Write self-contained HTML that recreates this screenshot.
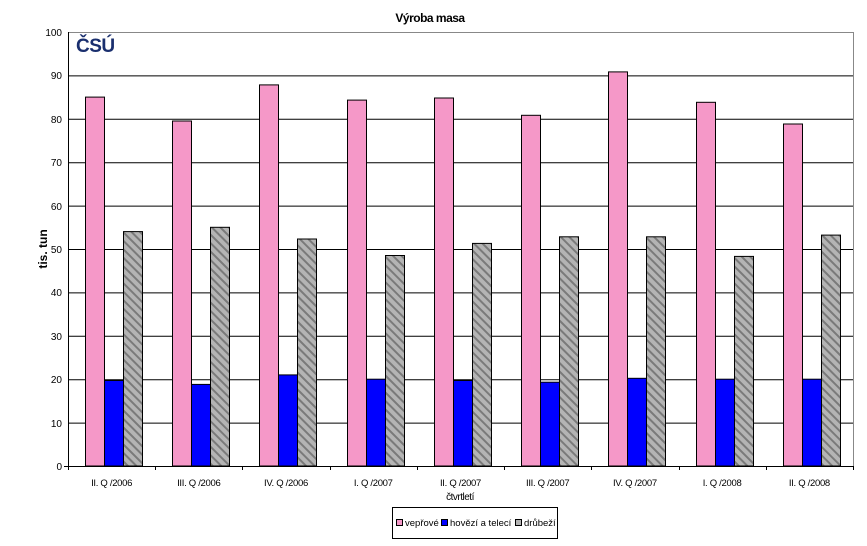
<!DOCTYPE html>
<html><head><meta charset="utf-8"><style>
html,body{margin:0;padding:0;background:#fff;}
svg{display:block;font-family:"Liberation Sans",Arial,sans-serif;}
</style></head><body>
<svg width="867" height="546" viewBox="0 0 867 546" xmlns="http://www.w3.org/2000/svg">
<defs>
<pattern id="h" width="6" height="6" patternUnits="userSpaceOnUse" patternTransform="rotate(-45)">
<rect width="6" height="6" fill="#b4b4b4"/><rect width="2" height="6" fill="#7a7a7a"/>
</pattern>
</defs>
<text x="430" y="22" font-size="12" text-anchor="middle" font-weight="bold" letter-spacing="-0.5">Výroba masa</text>
<g stroke="#000" stroke-width="1">
<line x1="68" y1="32.5" x2="853" y2="32.5" stroke="#888"/>
<line x1="68" y1="75.9" x2="853" y2="75.9"/>
<line x1="68" y1="119.3" x2="853" y2="119.3"/>
<line x1="68" y1="162.7" x2="853" y2="162.7"/>
<line x1="68" y1="206.1" x2="853" y2="206.1"/>
<line x1="68" y1="249.5" x2="853" y2="249.5"/>
<line x1="68" y1="292.9" x2="853" y2="292.9"/>
<line x1="68" y1="336.3" x2="853" y2="336.3"/>
<line x1="68" y1="379.7" x2="853" y2="379.7"/>
<line x1="68" y1="423.1" x2="853" y2="423.1"/>
<line x1="853.5" y1="32" x2="853.5" y2="466" stroke="#888"/>
</g>
<g font-size="10" text-anchor="end">
<text x="62" y="470">0</text><text x="62" y="427">10</text><text x="62" y="383">20</text><text x="62" y="340">30</text><text x="62" y="296">40</text><text x="62" y="253">50</text><text x="62" y="210">60</text><text x="62" y="166">70</text><text x="62" y="123">80</text><text x="62" y="79">90</text><text x="62" y="36">100</text>
</g>
<text x="0" y="0" font-size="12" font-weight="bold" transform="translate(47,249) rotate(-90)" text-anchor="middle">tis. tun</text>
<text x="76" y="52" font-size="19" font-weight="bold" fill="#1a2f6e" letter-spacing="-0.5">ČSÚ</text>
<g stroke="#000" stroke-width="1">
<rect x="85.5" y="97.1" width="19" height="368.9" fill="#f598c8"/>
<rect x="104.5" y="380.5" width="19" height="85.5" fill="#0000ff"/>
<rect x="123.5" y="231.6" width="19" height="234.4" fill="url(#h)"/>
<rect x="172.5" y="121.0" width="19" height="345.0" fill="#f598c8"/>
<rect x="191.5" y="384.4" width="19" height="81.6" fill="#0000ff"/>
<rect x="210.5" y="227.3" width="19" height="238.7" fill="url(#h)"/>
<rect x="259.5" y="84.9" width="19" height="381.1" fill="#f598c8"/>
<rect x="278.5" y="374.9" width="19" height="91.1" fill="#0000ff"/>
<rect x="297.5" y="239.0" width="19" height="227.0" fill="url(#h)"/>
<rect x="347.5" y="100.1" width="19" height="365.9" fill="#f598c8"/>
<rect x="366.5" y="379.2" width="19" height="86.8" fill="#0000ff"/>
<rect x="385.5" y="255.5" width="19" height="210.5" fill="url(#h)"/>
<rect x="434.5" y="98.0" width="19" height="368.0" fill="#f598c8"/>
<rect x="453.5" y="380.5" width="19" height="85.5" fill="#0000ff"/>
<rect x="472.5" y="243.4" width="19" height="222.6" fill="url(#h)"/>
<rect x="521.5" y="115.3" width="19" height="350.7" fill="#f598c8"/>
<rect x="540.5" y="382.2" width="19" height="83.8" fill="#0000ff"/>
<rect x="559.5" y="236.8" width="19" height="229.2" fill="url(#h)"/>
<rect x="608.5" y="71.9" width="19" height="394.1" fill="#f598c8"/>
<rect x="627.5" y="378.3" width="19" height="87.7" fill="#0000ff"/>
<rect x="646.5" y="236.8" width="19" height="229.2" fill="url(#h)"/>
<rect x="696.5" y="102.3" width="19" height="363.7" fill="#f598c8"/>
<rect x="715.5" y="379.2" width="19" height="86.8" fill="#0000ff"/>
<rect x="734.5" y="256.4" width="19" height="209.6" fill="url(#h)"/>
<rect x="783.5" y="124.0" width="19" height="342.0" fill="#f598c8"/>
<rect x="802.5" y="379.2" width="19" height="86.8" fill="#0000ff"/>
<rect x="821.5" y="235.1" width="19" height="230.9" fill="url(#h)"/>
</g>
<line x1="68.5" y1="32" x2="68.5" y2="470" stroke="#000"/>
<line x1="64" y1="466.5" x2="853" y2="466.5" stroke="#000"/>
<g stroke="#000">
<line x1="155.5" y1="466" x2="155.5" y2="470"/><line x1="242.5" y1="466" x2="242.5" y2="470"/><line x1="330.5" y1="466" x2="330.5" y2="470"/><line x1="417.5" y1="466" x2="417.5" y2="470"/><line x1="504.5" y1="466" x2="504.5" y2="470"/><line x1="591.5" y1="466" x2="591.5" y2="470"/><line x1="679.5" y1="466" x2="679.5" y2="470"/><line x1="766.5" y1="466" x2="766.5" y2="470"/><line x1="853.5" y1="466" x2="853.5" y2="470"/>
</g>
<g font-size="9.5" text-anchor="middle" letter-spacing="-0.3">
<text x="111.6" y="486">II. Q /2006</text>
<text x="198.8" y="486">III. Q /2006</text>
<text x="286" y="486">IV. Q /2006</text>
<text x="373.3" y="486">I. Q /2007</text>
<text x="460.5" y="486">II. Q /2007</text>
<text x="547.7" y="486">III. Q /2007</text>
<text x="634.9" y="486">IV. Q /2007</text>
<text x="722.1" y="486">I. Q /2008</text>
<text x="809.4" y="486">II. Q /2008</text>
</g>
<text x="460" y="500" font-size="10" text-anchor="middle" letter-spacing="-0.5">čtvrtletí</text>
<rect x="392.5" y="507.5" width="165" height="31" fill="#fff" stroke="#000"/>
<rect x="396.5" y="519.5" width="6" height="6" fill="#f598c8" stroke="#000"/>
<text x="405" y="526" font-size="9.5">vepřové</text>
<rect x="441.5" y="519.5" width="6" height="6" fill="#0000ff" stroke="#000"/>
<text x="450" y="526" font-size="9.5">hovězí a telecí</text>
<rect x="515.5" y="519.5" width="6" height="6" fill="#b4b4b4" stroke="#000"/>
<text x="524" y="526" font-size="9.5">drůbeží</text>
</svg>
</body></html>
